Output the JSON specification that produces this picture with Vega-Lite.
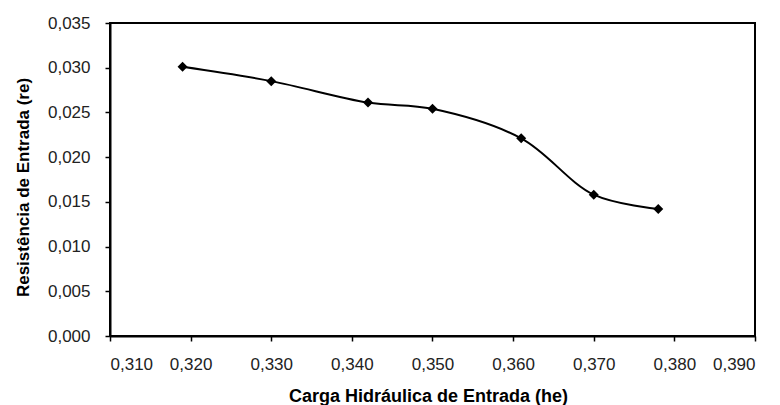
{
  "$schema": "https://vega.github.io/schema/vega-lite/v6.json",
  "autosize": {"type": "none"},
  "width": 645,
  "height": 313,
  "padding": {"left": 110, "top": 23, "right": 25, "bottom": 69},
  "background": "white",
  "config": {
    "view": {"stroke": "black", "strokeWidth": 2},
    "font": "Liberation Sans"
  },
  "data": {
    "values": [
      {"he": 0.319, "re": 0.0301},
      {"he": 0.330, "re": 0.0285},
      {"he": 0.342, "re": 0.0261},
      {"he": 0.350, "re": 0.0254},
      {"he": 0.361, "re": 0.0221},
      {"he": 0.370, "re": 0.0158},
      {"he": 0.378, "re": 0.0142}
    ]
  },
  "encoding": {
    "x": {
      "field": "he", "type": "quantitative",
      "scale": {"domain": [0.31, 0.39], "nice": false, "zero": false},
      "axis": {
        "title": "Carga Hidráulica de Entrada (he)",
        "values": [0.31, 0.32, 0.33, 0.34, 0.35, 0.36, 0.37, 0.38, 0.39],
        "labelExpr": "replace(format(datum.value, '.3f'), '.', ',')",
        "grid": false, "domainColor": "black", "domainWidth": 2,
        "tickColor": "black", "tickSize": 5, "tickWidth": 1.5,
        "labelFontSize": 17, "labelColor": "#222", "labelPadding": 15,
        "titleFontSize": 18, "titleFontWeight": "bold", "titleColor": "black",
        "titleX": 318, "titleY": 60, "titleBaseline": "middle", "titleAnchor": "middle"
      }
    },
    "y": {
      "field": "re", "type": "quantitative",
      "scale": {"domain": [0, 0.035], "nice": false},
      "axis": {
        "title": "Resistência de Entrada (re)",
        "values": [0, 0.005, 0.01, 0.015, 0.02, 0.025, 0.03, 0.035],
        "labelExpr": "replace(format(datum.value, '.3f'), '.', ',')",
        "grid": false, "domainColor": "black", "domainWidth": 2,
        "tickColor": "black", "tickSize": 5, "tickWidth": 1.5,
        "labelFontSize": 17, "labelColor": "#222", "labelPadding": 15,
        "titleFontSize": 17, "titleFontWeight": "bold", "titleColor": "black",
        "titleX": -87, "titleY": 164, "titleAngle": 270, "titleBaseline": "middle", "titleAlign": "center"
      }
    }
  },
  "layer": [
    {"mark": {"type": "line", "interpolate": "catmull-rom", "color": "black", "strokeWidth": 2}},
    {"mark": {"type": "point", "shape": "diamond", "filled": true, "color": "black", "size": 100, "opacity": 1}}
  ]
}
